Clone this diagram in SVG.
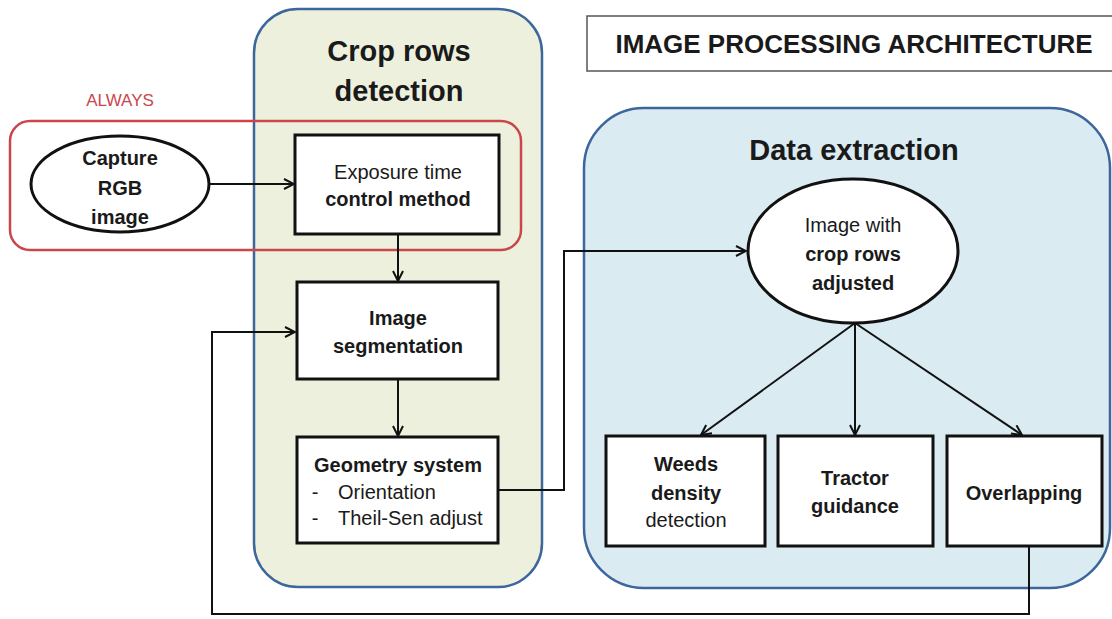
<svg xmlns="http://www.w3.org/2000/svg" width="1112" height="619" viewBox="0 0 1112 619">
<defs>
<marker id="arr" viewBox="0 0 12 12" refX="11" refY="6" markerWidth="12" markerHeight="12" markerUnits="userSpaceOnUse" orient="auto">
<path d="M1,1 L11,6 L1,11" fill="none" stroke="#111" stroke-width="2"/>
</marker>
<style>
text{font-family:"Liberation Sans",Arial,sans-serif;fill:#1a1a1a;text-anchor:middle}
.b{font-weight:bold}
.n{font-size:20px}
.h{font-size:29px;font-weight:bold}
.box{fill:#fff;stroke:#111;stroke-width:3}
.con{fill:none;stroke:#111;stroke-width:2}
.panel{stroke:#3d679c;stroke-width:2.5}
</style>
</defs>
<rect width="1112" height="619" fill="#fff"/>
<g id="title">
<rect x="587" y="16" width="540" height="55" fill="#fff" stroke="#555" stroke-width="1.5"/>
<text x="854" y="53" font-size="26" class="b">IMAGE PROCESSING ARCHITECTURE</text>
</g>
<g id="crop-rows-panel">
<rect x="254" y="9" width="288" height="578" rx="44" class="panel" fill="#edf0dd"/>
<text x="399" y="61" class="h">Crop rows</text>
<text x="399" y="101" class="h">detection</text>
</g>
<g id="data-extraction-panel">
<rect x="584" y="108" width="526" height="480" rx="60" class="panel" fill="#daebf2"/>
<text x="854" y="160" class="h" font-size="30">Data extraction</text>
</g>
<g id="always-group">
<rect x="10" y="121" width="511" height="129" rx="20" fill="none" stroke="#c9474b" stroke-width="2.5"/>
<text x="120" y="106" font-size="17" fill="#c9474b" style="fill:#c9474b">ALWAYS</text>
</g>
<g id="connectors">
<path class="con" d="M210,184 L294,184" marker-end="url(#arr)"/>
<path class="con" d="M398,234 L398,281" marker-end="url(#arr)"/>
<path class="con" d="M398,379 L398,436" marker-end="url(#arr)"/>
<path class="con" d="M498,490 L564,490 L564,251 L746,251" marker-end="url(#arr)"/>
<path class="con" d="M855,323 L701,435" marker-end="url(#arr)"/>
<path class="con" d="M855,323 L855,435" marker-end="url(#arr)"/>
<path class="con" d="M855,323 L1022,435" marker-end="url(#arr)"/>
<path class="con" d="M1029,546 L1029,614 L212,614 L212,332 L295,332" marker-end="url(#arr)"/>
</g>
<g id="capture">
<ellipse cx="120" cy="184" rx="89" ry="48" class="box"/>
<text x="120" y="165" class="n b">Capture</text>
<text x="120" y="195" class="n b">RGB</text>
<text x="120" y="224" class="n b">image</text>
</g>
<g id="exposure">
<rect x="295" y="135" width="204" height="99" class="box"/>
<text x="398" y="179" class="n">Exposure time</text>
<text x="398" y="206" class="n b">control method</text>
</g>
<g id="segmentation">
<rect x="297" y="282" width="201" height="97" class="box"/>
<text x="398" y="325" class="n b">Image</text>
<text x="398" y="353" class="n b">segmentation</text>
</g>
<g id="geometry">
<rect x="297" y="437" width="201" height="106" class="box"/>
<text x="398" y="472" class="n b">Geometry system</text>
<text x="315" y="499" class="n">-</text>
<text x="338" y="499" class="n" style="text-anchor:start">Orientation</text>
<text x="315" y="525" class="n">-</text>
<text x="338" y="525" class="n" style="text-anchor:start">Theil-Sen adjust</text>
</g>
<g id="image-adjusted">
<ellipse cx="853" cy="251" rx="105" ry="72" class="box"/>
<text x="853" y="232" class="n">Image with</text>
<text x="853" y="261" class="n b">crop rows</text>
<text x="853" y="290" class="n b">adjusted</text>
</g>
<g id="weeds">
<rect x="606" y="436" width="159" height="110" class="box"/>
<text x="686" y="471" class="n b">Weeds</text>
<text x="686" y="500" class="n b">density</text>
<text x="686" y="527" class="n">detection</text>
</g>
<g id="tractor">
<rect x="778" y="436" width="155" height="110" class="box"/>
<text x="855" y="485" class="n b">Tractor</text>
<text x="855" y="513" class="n b">guidance</text>
</g>
<g id="overlapping">
<rect x="947" y="436" width="155" height="110" class="box"/>
<text x="1024" y="500" class="n b">Overlapping</text>
</g>
</svg>
